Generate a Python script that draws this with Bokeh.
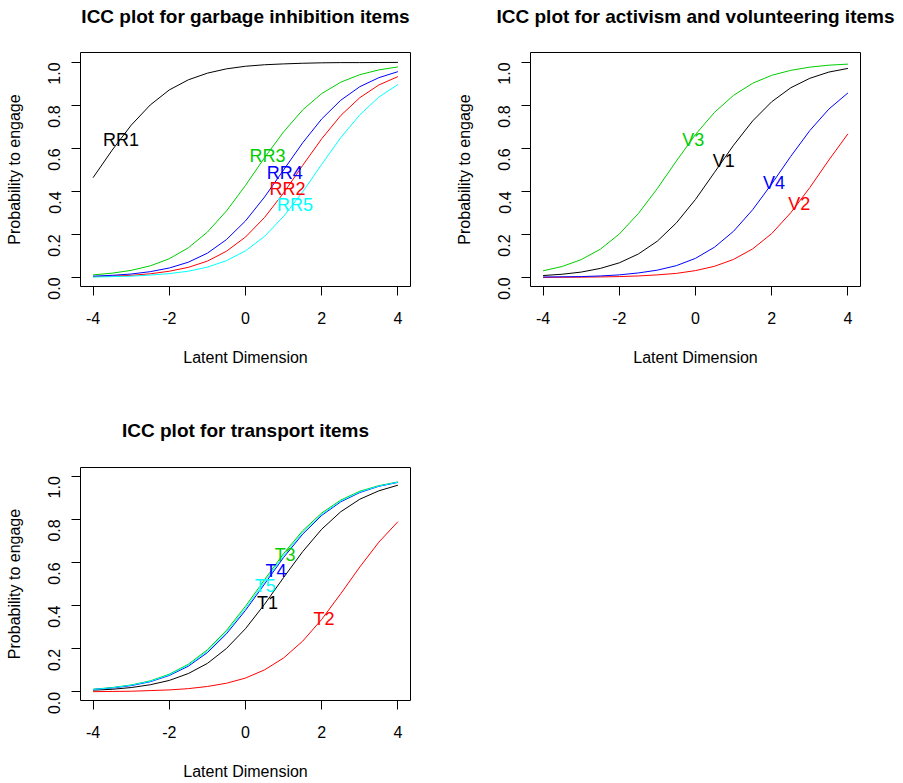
import math

from bokeh.core.properties import value
from bokeh.embed import file_html
from bokeh.layouts import column, row
from bokeh.models import (ColumnDataSource, FixedTicker, PrintfTickFormatter,
                          Range1d, Spacer)
from bokeh.plotting import figure
from bokeh.resources import INLINE

FONT = "Liberation Sans"

# Latent trait grid
theta = [-4.0, -3.5, -3.0, -2.5, -2.0, -1.5, -1.0, -0.5, 0.0,
         0.5, 1.0, 1.5, 2.0, 2.5, 3.0, 3.5, 4.0]

# Garbage inhibition items: probability to engage
rr1 = [0.464, 0.592, 0.708, 0.802, 0.872, 0.919, 0.950, 0.970, 0.982,
       0.989, 0.993, 0.996, 0.998, 0.999, 0.999, 0.9995, 1.000]
rr2 = [0.004, 0.006, 0.010, 0.017, 0.029, 0.047, 0.076, 0.122, 0.188,
       0.279, 0.393, 0.521, 0.645, 0.753, 0.836, 0.895, 0.934]
rr3 = [0.012, 0.020, 0.033, 0.054, 0.087, 0.138, 0.211, 0.309, 0.428,
       0.557, 0.677, 0.779, 0.855, 0.908, 0.943, 0.965, 0.979]
rr4 = [0.006, 0.010, 0.016, 0.027, 0.044, 0.071, 0.113, 0.176, 0.263,
       0.374, 0.500, 0.626, 0.737, 0.824, 0.887, 0.929, 0.957]
rr5 = [0.002, 0.004, 0.006, 0.011, 0.018, 0.029, 0.048, 0.078, 0.124,
       0.191, 0.284, 0.398, 0.526, 0.650, 0.756, 0.839, 0.897]

# Activism and volunteering items
v1 = [0.009, 0.015, 0.025, 0.042, 0.068, 0.109, 0.169, 0.254, 0.363,
      0.489, 0.615, 0.728, 0.817, 0.882, 0.926, 0.955, 0.972]
v2 = [0.0005, 0.001, 0.0015, 0.0025, 0.004, 0.007, 0.012, 0.019, 0.032,
      0.052, 0.084, 0.133, 0.204, 0.301, 0.418, 0.546, 0.668]
v3 = [0.031, 0.051, 0.083, 0.131, 0.202, 0.297, 0.414, 0.542, 0.665,
      0.768, 0.847, 0.903, 0.940, 0.963, 0.978, 0.987, 0.992]
v4 = [0.002, 0.003, 0.004, 0.007, 0.012, 0.021, 0.034, 0.055, 0.089,
      0.141, 0.215, 0.315, 0.435, 0.563, 0.683, 0.783, 0.858]

# Transport items
t1 = [0.008, 0.012, 0.020, 0.033, 0.053, 0.085, 0.132, 0.201, 0.293,
      0.406, 0.530, 0.650, 0.754, 0.835, 0.893, 0.932, 0.958]
t2 = [0.001, 0.002, 0.003, 0.006, 0.009, 0.015, 0.025, 0.040, 0.064,
      0.102, 0.157, 0.235, 0.336, 0.455, 0.579, 0.694, 0.789]
t3 = [0.012, 0.020, 0.032, 0.051, 0.082, 0.128, 0.195, 0.285, 0.397,
      0.520, 0.641, 0.747, 0.829, 0.889, 0.930, 0.956, 0.973]
t4 = [0.011, 0.018, 0.029, 0.047, 0.076, 0.119, 0.182, 0.269, 0.378,
      0.500, 0.623, 0.731, 0.818, 0.881, 0.924, 0.953, 0.971]
t5 = [0.011, 0.019, 0.031, 0.049, 0.079, 0.124, 0.189, 0.277, 0.387,
      0.510, 0.632, 0.739, 0.823, 0.885, 0.927, 0.954, 0.972]

# Item label anchors (theta, probability)
rr_names = ["RR1", "RR2", "RR3", "RR4", "RR5"]
rr_label_x = [-3.27, 1.10, 0.58, 1.03, 1.30]
rr_label_y = [0.637, 0.410, 0.563, 0.487, 0.338]

v_names = ["V1", "V2", "V3", "V4"]
v_label_x = [0.74, 2.72, -0.06, 2.06]
v_label_y = [0.540, 0.343, 0.637, 0.439]

t_names = ["T1", "T2", "T3", "T4", "T5"]
t_label_x = [0.58, 2.06, 1.04, 0.80, 0.52]
t_label_y = [0.412, 0.338, 0.636, 0.562, 0.489]

item_colors = ["#000000", "#FF0000", "#00CD00", "#0000FF", "#00FFFF"]

x_ticks = [-4, -2, 0, 2, 4]
y_ticks = [0.0, 0.2, 0.4, 0.6, 0.8, 1.0]


def title_strip(text, width, height, centre_x, text_y):
    """A bare canvas holding one bold panel title."""
    t = figure(width=width, height=height, output_backend="svg",
               toolbar_location=None, x_axis_location=None,
               y_axis_location=None,
               x_range=Range1d(0, width), y_range=Range1d(0, height),
               min_border=0, outline_line_color=None,
               background_fill_color="white", border_fill_color="white")
    t.grid.visible = False
    t.text(x=[centre_x], y=[text_y], text=[text], text_color="black",
           text_align="center", text_baseline="middle",
           text_font=value(FONT), text_font_size="19px",
           text_font_style="bold")
    return t


def icc_panel(curves, names, lx, ly, width, height,
              left, right, top, bottom, y_lo, y_hi):
    p = figure(width=width, height=height, output_backend="svg",
               toolbar_location=None,
               x_range=Range1d(-4.33, 4.33), y_range=Range1d(y_lo, y_hi),
               min_border_left=left, min_border_right=right,
               min_border_top=top, min_border_bottom=bottom,
               background_fill_color="white", border_fill_color="white")
    p.grid.visible = False
    p.outline_line_color = "black"
    p.outline_line_width = 1

    for ax in (p.xaxis[0], p.yaxis[0]):
        ax.axis_line_color = None
        ax.major_tick_out = 9
        ax.major_tick_in = 0
        ax.major_tick_line_color = "black"
        ax.minor_tick_line_color = None
        ax.major_label_text_font = FONT
        ax.major_label_text_font_size = "16px"
        ax.major_label_text_color = "black"
        ax.axis_label_text_font = FONT
        ax.axis_label_text_font_size = "16px"
        ax.axis_label_text_font_style = "normal"
        ax.axis_label_text_color = "black"

    p.xaxis.ticker = FixedTicker(ticks=x_ticks)
    p.xaxis.formatter = PrintfTickFormatter(format="%d")
    p.xaxis.axis_label = "Latent Dimension"
    p.xaxis.major_label_standoff = 16
    p.xaxis.axis_label_standoff = 22

    p.yaxis.ticker = FixedTicker(ticks=y_ticks)
    p.yaxis.formatter = PrintfTickFormatter(format="%.1f")
    p.yaxis.major_label_orientation = math.pi / 2
    p.yaxis.axis_label = "Probability to engage"
    p.yaxis.major_label_standoff = 17
    p.yaxis.axis_label_standoff = 17

    for curve, color in zip(curves, item_colors):
        p.line(theta, curve, line_color=color, line_width=1)

    src = ColumnDataSource(dict(x=lx, y=ly, text=names,
                                color=item_colors[:len(names)]))
    p.text(x="x", y="y", text="text", source=src, text_color="color",
           text_align="center", text_baseline="middle",
           text_font=value(FONT), text_font_size="18px")
    return p


# top row: titles (40 px) over plots (360 px)
h1 = title_strip("ICC plot for garbage inhibition items", 451, 40, 245, 24)
h2 = title_strip("ICC plot for activism and volunteering items", 452, 40,
                 244, 24)
p1 = icc_panel([rr1, rr2, rr3, rr4, rr5], rr_names, rr_label_x, rr_label_y,
               451, 360, 80, 41, 12, 114, -0.042, 1.046)
p2 = icc_panel([v1, v2, v3, v4], v_names, v_label_x, v_label_y,
               452, 360, 79, 43, 12, 114, -0.042, 1.046)

# bottom row: title (50 px) over plot (333 px)
h3 = title_strip("ICC plot for transport items", 451, 50, 245, 20)
p3 = icc_panel([t1, t2, t3, t4, t5], t_names, t_label_x, t_label_y,
               451, 333, 80, 41, 17, 83, -0.040, 1.040)

layout = column(
    row(h1, h2),
    row(p1, p2),
    row(h3, Spacer(width=452, height=50)),
    row(p3, Spacer(width=452, height=333)),
)

with open("out.html", "w") as f:
    f.write(file_html(layout, INLINE))
